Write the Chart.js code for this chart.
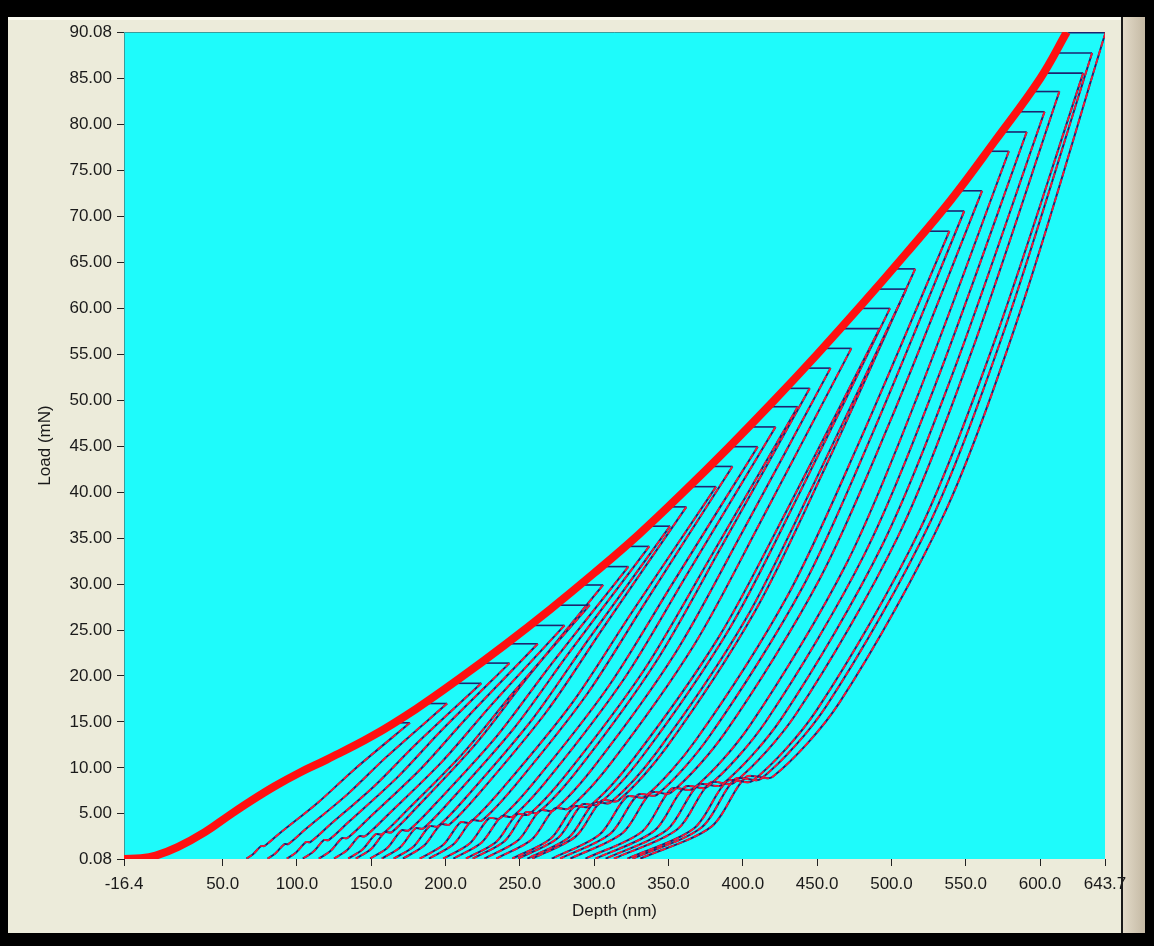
<!DOCTYPE html>
<html>
<head>
<meta charset="utf-8">
<script src="https://cdn.jsdelivr.net/npm/chart.js@4.4.1/dist/chart.umd.min.js"></script>
<style>
  html, body { margin: 0; padding: 0; background: #000; }
  #frame { position: relative; width: 1154px; height: 946px; overflow: hidden; background: #000; }
  #panel { position: absolute; left: 8px; top: 17px; width: 1113px; height: 916px; background: #ecebda; border-top: 3px solid #fafaf0; box-sizing: border-box; }
  #edge { position: absolute; left: 1121px; top: 17px; width: 2px; height: 916px; background: #1a1a1a; }
  #strip { position: absolute; left: 1123px; top: 17px; width: 22px; height: 916px; background: linear-gradient(to right, #e2dac8, #c4b9a4); }
  #wrap { position: absolute; left: 0; top: 0; width: 1154px; height: 946px; }
</style>
</head>
<body>
<div id="frame">
  <div id="panel"></div>
  <div id="edge"></div>
  <div id="strip"></div>
  <div id="wrap"><canvas id="chart" width="1154" height="946"></canvas></div>
</div>
<script>
// axis ticks
const depthTicks = [-16.4, 50, 100, 150, 200, 250, 300, 350, 400, 450, 500, 550, 600, 643.7];
const loadTicks = [0.08, 5, 10, 15, 20, 25, 30, 35, 40, 45, 50, 55, 60, 65, 70, 75, 80, 85, 90.08];

// loading envelope (all indents overlap here)
const envelopeDepth = [-16.4, -5, 5, 20, 38, 55, 68, 85, 102, 120, 150, 180, 210, 240, 270, 300, 330, 360, 390, 420, 450, 480, 510, 540, 570, 600, 618];
const envelopeLoad = [0.08, 0.15, 0.45, 1.4, 3.0, 4.9, 6.3, 8.0, 9.5, 10.9, 13.4, 16.4, 19.8, 23.4, 27.2, 31.2, 35.4, 40.0, 44.8, 49.8, 55.0, 60.4, 66.0, 71.8, 78.3, 85.0, 90.08];

// per indent: hold start, hold end, then unloading (with 10% drift hold) down to zero
const cycleDepth = [
  [167, 176, 138.6, 114.4, 88, 78.1, 75.9, 70.4, 66],
  [187, 201, 160.4, 134.1, 105.1, 94.1, 91.6, 85.4, 80.2],
  [207, 224, 180.7, 152.3, 121.1, 108.9, 106, 99.2, 93.2],
  [225, 243, 197.5, 167.7, 134.5, 121.3, 118.1, 110.9, 103.9],
  [243, 262, 214.6, 183.2, 148, 133.8, 130.3, 122.5, 114.7],
  [259, 280, 230.7, 197.8, 160.9, 145.8, 141.8, 133.6, 124.9],
  [276, 297, 246, 212, 173.3, 157.3, 152.9, 144.1, 134.5],
  [292, 306, 254.6, 220, 180.5, 163.7, 159.1, 150.1, 139.6],
  [307, 323, 270, 234.2, 193, 175.1, 170.2, 160.7, 149.2],
  [323, 337, 283, 246.1, 203.5, 185, 179.6, 169.5, 157.1],
  [338, 351, 296, 258.2, 214.4, 194.8, 189.1, 178.5, 165.1],
  [352, 362, 306.5, 268, 223, 202.6, 196.7, 185.6, 171.3],
  [366, 382, 324.8, 285.1, 238, 216.5, 209.9, 198.4, 182.6],
  [380, 393, 335.4, 295, 247, 224.5, 217.6, 205.5, 188.8],
  [393, 410, 351.2, 309.7, 260, 236.5, 229.1, 216.4, 198.4],
  [406, 422, 362.6, 320.5, 269.8, 245.3, 237.5, 224.3, 205.2],
  [419, 437, 376.9, 333.8, 281.6, 256.1, 247.9, 234.2, 213.7],
  [431, 445, 384.9, 341.6, 288.8, 262.3, 253.7, 239.8, 218.3],
  [443, 459, 398.5, 354.5, 300, 272.5, 263.4, 249, 226.2],
  [456, 473, 411.8, 367.2, 311.5, 282.8, 273.3, 258.2, 234.1],
  [468, 492, 430, 384, 326.4, 296.5, 286.4, 270.8, 244.9],
  [480, 499, 437.2, 391.2, 333.1, 302.6, 291.8, 275.8, 248.8],
  [491, 510, 448, 401.6, 342.5, 310.8, 299.9, 283.3, 255],
  [503, 516, 454.7, 408.1, 348.6, 316.1, 304.8, 287.8, 258.4],
  [524, 539, 477.5, 430.1, 368.3, 334.1, 321.8, 303.6, 271.5],
  [536, 549, 487.8, 440.2, 377.4, 342.1, 329.3, 310.8, 277.1],
  [547, 561, 500, 451.8, 388.1, 351.5, 338.2, 319.1, 283.9],
  [566, 579, 518.6, 470.2, 404.9, 366.5, 351.9, 332.3, 294.1],
  [576, 591, 530.9, 481.9, 415.5, 376, 360.9, 340.6, 300.9],
  [586, 603, 543.1, 493.7, 426.4, 385.7, 370, 349, 307.7],
  [596, 613, 553.7, 504.2, 435.9, 393.9, 377.7, 356.2, 313.3],
  [604, 629, 569.5, 519.2, 449.6, 406.4, 389.5, 367.2, 322.4],
  [611, 635, 576.6, 526.5, 456, 412.1, 394.8, 372.2, 325.8],
  [619, 644, 586.1, 536, 465, 419.9, 402.1, 378.9, 331]
];
const cycleLoad = [
  [14.9, 14.9, 9.83, 6.26, 2.83, 1.49, 1.49, 0.6, 0.12],
  [17, 17, 11.22, 7.14, 3.23, 1.7, 1.7, 0.68, 0.12],
  [19.2, 19.2, 12.67, 8.06, 3.65, 1.92, 1.92, 0.77, 0.12],
  [21.4, 21.4, 14.12, 8.99, 4.07, 2.14, 2.14, 0.86, 0.12],
  [23.5, 23.5, 15.51, 9.87, 4.47, 2.35, 2.35, 0.94, 0.12],
  [25.5, 25.5, 16.83, 10.71, 4.85, 2.55, 2.55, 1.02, 0.12],
  [27.7, 27.7, 18.28, 11.63, 5.26, 2.77, 2.77, 1.11, 0.12],
  [29.9, 29.9, 19.73, 12.56, 5.68, 2.99, 2.99, 1.2, 0.12],
  [31.9, 31.9, 21.05, 13.4, 6.06, 3.19, 3.19, 1.28, 0.12],
  [34.1, 34.1, 22.51, 14.32, 6.48, 3.41, 3.41, 1.36, 0.12],
  [36.3, 36.3, 23.96, 15.25, 6.9, 3.63, 3.63, 1.45, 0.12],
  [38.4, 38.4, 25.34, 16.13, 7.3, 3.84, 3.84, 1.54, 0.12],
  [40.6, 40.6, 26.8, 17.05, 7.71, 4.06, 4.06, 1.62, 0.12],
  [42.8, 42.8, 28.25, 17.98, 8.13, 4.28, 4.28, 1.71, 0.12],
  [44.95, 44.95, 29.67, 18.88, 8.54, 4.5, 4.5, 1.8, 0.12],
  [47.1, 47.1, 31.09, 19.78, 8.95, 4.71, 4.71, 1.88, 0.12],
  [49.3, 49.3, 32.54, 20.71, 9.37, 4.93, 4.93, 1.97, 0.12],
  [51.3, 51.3, 33.86, 21.55, 9.75, 5.13, 5.13, 2.05, 0.12],
  [53.5, 53.5, 35.31, 22.47, 10.17, 5.35, 5.35, 2.14, 0.12],
  [55.65, 55.65, 36.73, 23.37, 10.57, 5.57, 5.57, 2.23, 0.12],
  [57.8, 57.8, 38.15, 24.28, 10.98, 5.78, 5.78, 2.31, 0.12],
  [60, 60, 39.6, 25.2, 11.4, 6, 6, 2.4, 0.12],
  [62.1, 62.1, 40.99, 26.08, 11.8, 6.21, 6.21, 2.48, 0.12],
  [64.3, 64.3, 42.44, 27.01, 12.22, 6.43, 6.43, 2.57, 0.12],
  [68.4, 68.4, 45.14, 28.73, 13, 6.84, 6.84, 2.74, 0.12],
  [70.6, 70.6, 46.6, 29.65, 13.41, 7.06, 7.06, 2.82, 0.12],
  [72.8, 72.8, 48.05, 30.58, 13.83, 7.28, 7.28, 2.91, 0.12],
  [77.1, 77.1, 50.89, 32.38, 14.65, 7.71, 7.71, 3.08, 0.12],
  [79.2, 79.2, 52.27, 33.26, 15.05, 7.92, 7.92, 3.17, 0.12],
  [81.4, 81.4, 53.72, 34.19, 15.47, 8.14, 8.14, 3.26, 0.12],
  [83.6, 83.6, 55.18, 35.11, 15.88, 8.36, 8.36, 3.34, 0.12],
  [85.6, 85.6, 56.5, 35.95, 16.26, 8.56, 8.56, 3.42, 0.12],
  [87.8, 87.8, 57.95, 36.88, 16.68, 8.78, 8.78, 3.51, 0.12],
  [90, 90, 59.4, 37.8, 17.1, 9, 9, 3.6, 0.12]
];

const pts = (xs, ys) => xs.map((x, i) => ({ x: x, y: ys[i] }));

const datasets = [];
// envelope on top (first dataset is drawn last)
datasets.push({
  data: pts(envelopeDepth, envelopeLoad),
  borderColor: '#ff1010', borderWidth: 8, tension: 0.4
});
cycleDepth.forEach((d, k) => {
  const unload = pts(d.slice(1), cycleLoad[k].slice(1));
  datasets.push({ data: unload, borderColor: '#f41a34', borderWidth: 1.8, borderDash: [6, 3], tension: 0.3 });
  datasets.push({ data: unload, borderColor: '#1c2470', borderWidth: 2, tension: 0.3 });
  datasets.push({ data: pts(d.slice(0, 2), cycleLoad[k].slice(0, 2)), borderColor: '#1c2470', borderWidth: 1.6, tension: 0 });
});
datasets.forEach(ds => { ds.showLine = true; ds.pointRadius = 0; ds.fill = false; });

const plotBg = {
  id: 'plotBg',
  beforeDraw(chart) {
    const { ctx, chartArea: a } = chart;
    ctx.save();
    ctx.fillStyle = '#1efbfb';
    ctx.fillRect(a.left, a.top, a.right - a.left, a.bottom - a.top);
    ctx.strokeStyle = '#3a9c9c';
    ctx.lineWidth = 1;
    ctx.beginPath();
    ctx.moveTo(a.left + 0.5, a.bottom);
    ctx.lineTo(a.left + 0.5, a.top + 0.5);
    ctx.lineTo(a.right, a.top + 0.5);
    ctx.stroke();
    ctx.restore();
  }
};

const tickFont = { family: 'Liberation Sans, Arial, sans-serif', size: 17 };

new Chart(document.getElementById('chart'), {
  type: 'scatter',
  data: { datasets: datasets },
  options: {
    responsive: false,
    animation: false,
    layout: { padding: { left: 0, top: 32, right: 49, bottom: 0 } },
    plugins: { legend: { display: false }, tooltip: { enabled: false } },
    scales: {
      x: {
        type: 'linear', min: -16.4, max: 643.7,
        afterBuildTicks: s => { s.ticks = depthTicks.map(v => ({ value: v })); },
        afterFit: s => { s.height = 87; },
        ticks: { autoSkip: false, maxRotation: 0, padding: 8, color: '#1a1a1a', font: tickFont,
                 callback: v => Number(v).toFixed(1) },
        grid: { drawOnChartArea: false, tickLength: 7, color: '#222' },
        border: { display: false },
        title: { display: true, text: 'Depth (nm)', color: '#1a1a1a', font: tickFont, padding: { top: 0, bottom: 24 } }
      },
      y: {
        type: 'linear', min: 0.08, max: 90.08,
        afterBuildTicks: s => { s.ticks = loadTicks.map(v => ({ value: v })); },
        afterFit: s => { s.width = 124; },
        ticks: { autoSkip: false, padding: 5, color: '#1a1a1a', font: tickFont,
                 callback: v => Number(v).toFixed(2) },
        grid: { drawOnChartArea: false, tickLength: 7, color: '#222' },
        border: { display: false },
        title: { display: true, text: 'Load (mN)', color: '#1a1a1a', font: tickFont, padding: { top: 35, bottom: 0 } }
      }
    }
  },
  plugins: [plotBg]
});
</script>
</body>
</html>
